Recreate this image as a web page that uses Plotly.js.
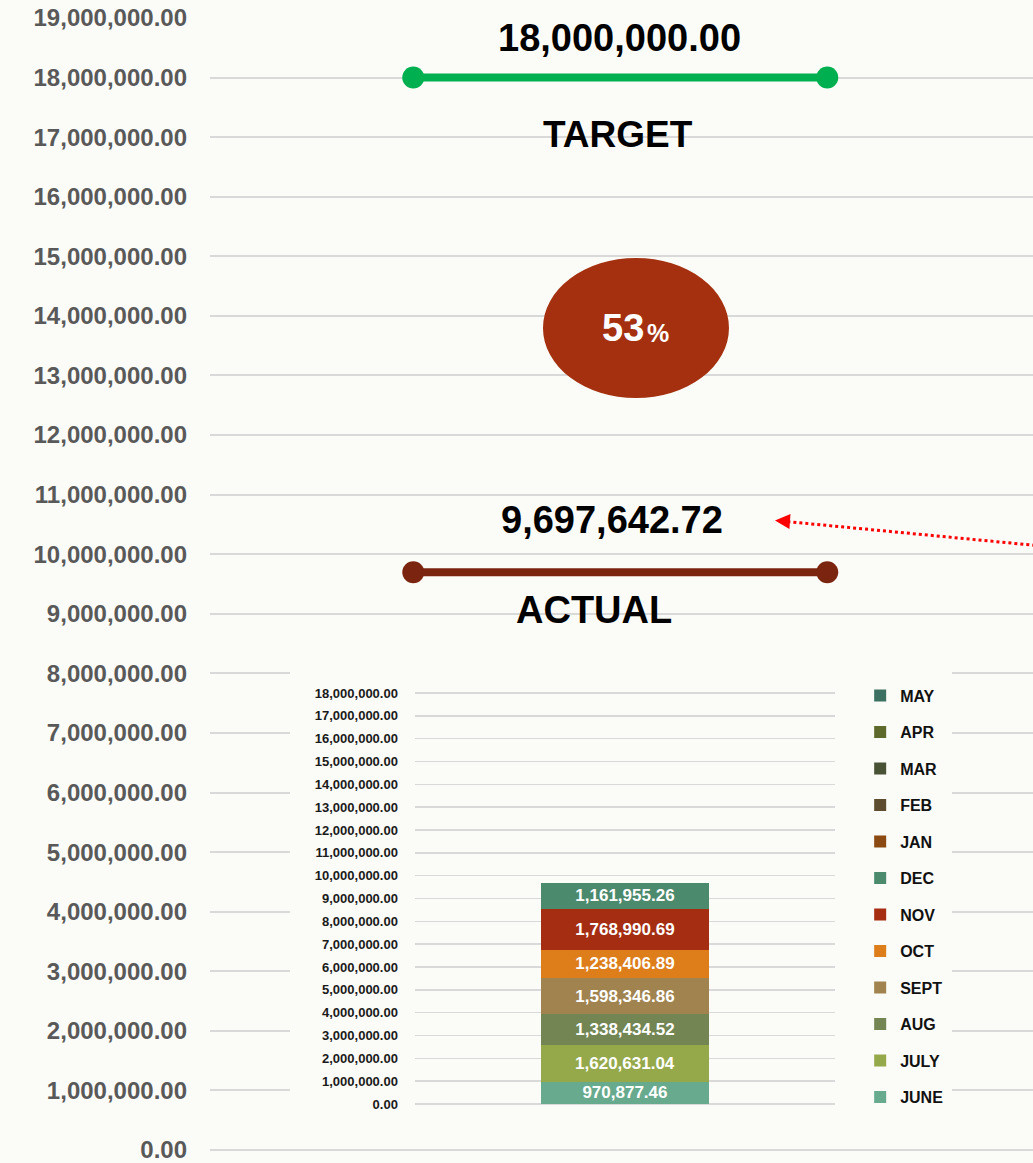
<!DOCTYPE html>
<html>
<head>
<meta charset="utf-8">
<script src="https://cdn.plot.ly/plotly-3.0.1.min.js"></script>
<style>
html,body{margin:0;padding:0;background:#FBFBF7;}
#chart{width:1033px;height:1163px;}
</style>
</head>
<body>
<div id="chart"></div>
<script>
// ---- DATA ----
const months = ['JUNE','JULY','AUG','SEPT','OCT','NOV','DEC','JAN','FEB','MAR','APR','MAY'];
const monthValues = [970877.46, 1620631.04, 1338434.52, 1598346.86, 1238406.89, 1768990.69, 1161955.26, 0, 0, 0, 0, 0];
const monthColors = ['#68AA8E','#95A94B','#728553','#A0834F','#DD7E1B','#A52E12','#4C8A6E','#8B4A12','#5E4C31','#4A5236','#5D6A2C','#3C7060'];
const target = 18000000;
const barCategory = ['TOTAL'];
const targetLabel = 'TARGET';
const actualLabel = 'ACTUAL';

// ---- derived ----
const actual = monthValues.reduce((a, b) => a + b, 0);
const pct = Math.floor(actual / target * 100);
const fmt = v => v.toLocaleString('en-US', {minimumFractionDigits: 2, maximumFractionDigits: 2});

const FONT = 'Liberation Sans, Arial, sans-serif';
const BG = '#FBFBF7';
const LINE_X = [0.247, 0.75];

const traces = [];
traces.push({
  type: 'scatter', mode: 'lines+markers', x: LINE_X, y: [target, target],
  xaxis: 'x', yaxis: 'y', showlegend: false, hoverinfo: 'skip',
  line: {color: '#00B050', width: 8}, marker: {color: '#00B050', size: 22}
});
traces.push({
  type: 'scatter', mode: 'lines+markers', x: LINE_X, y: [actual, actual],
  xaxis: 'x', yaxis: 'y', showlegend: false, hoverinfo: 'skip',
  line: {color: '#7B2510', width: 8}, marker: {color: '#7B2510', size: 22}
});
months.forEach((m, i) => {
  const v = monthValues[i];
  traces.push({
    type: 'bar', name: m, legendgroup: m, legendrank: months.length - i,
    x: barCategory, y: [v],
    xaxis: 'x2', yaxis: 'y2',
    marker: {color: monthColors[i], line: {width: 0}},
    text: [v > 0 ? fmt(v) : ''], textposition: 'inside', insidetextanchor: 'middle',
    constraintext: 'none', textangle: 0,
    textfont: {family: FONT, size: 17, color: '#FFFFFF', weight: 'bold'},
    hoverinfo: 'skip'
  });
});

const layout = {
  width: 1033, height: 1163,
  margin: {l: 210, r: 0, t: 18, b: 13},
  paper_bgcolor: BG, plot_bgcolor: BG,
  barmode: 'stack', bargap: 0.6,
  showlegend: true,
  legend: {
    x: 0.79, y: 0.4165, xanchor: 'left', yanchor: 'top',
    traceorder: 'grouped', tracegroupgap: 12.7,
    bgcolor: 'rgba(0,0,0,0)',
    font: {family: FONT, size: 16, color: '#111111', weight: 'bold'},
    itemclick: false
  },
  xaxis: {domain: [0, 1], range: [0, 1], visible: false, fixedrange: true},
  yaxis: {
    domain: [0, 1], range: [0, 19000000], dtick: 1000000, tick0: 0,
    tickformat: ',.2f', showgrid: true, gridcolor: '#D9D9D9', gridwidth: 2,
    zeroline: true, zerolinecolor: '#D9D9D9', zerolinewidth: 2,
    showline: false, ticks: '', ticklabelstandoff: 22, ticklabeloverflow: 'allow',
    tickfont: {family: FONT, size: 24, color: '#595959', weight: 'bold'},
    fixedrange: true
  },
  xaxis2: {domain: [0.249, 0.7594], anchor: 'y2', showticklabels: false, ticks: '',
    showgrid: false, zeroline: false, showline: false, fixedrange: true},
  yaxis2: {
    domain: [0.0406, 0.4077], anchor: 'x2', range: [0, 18200000], dtick: 1000000, tick0: 0,
    tickformat: ',.2f', showgrid: true, gridcolor: '#D9D9D9', gridwidth: 1.5,
    zeroline: true, zerolinecolor: '#D9D9D9', zerolinewidth: 1.5,
    showline: false, ticks: '', ticklabelstandoff: 16, ticklabeloverflow: 'allow',
    tickfont: {family: FONT, size: 13, color: '#1A1A1A', weight: 'bold'},
    fixedrange: true
  },
  shapes: [
    // inner chart area background covering the outer grid
    {type: 'rect', xref: 'x', yref: 'y', layer: 'between',
     x0: 0.0972, x1: 0.9016, y0: 470000, y1: 8220000,
     fillcolor: BG, line: {width: 0}},
    // percent ellipse
    {type: 'circle', xref: 'paper', yref: 'paper', layer: 'above',
     x0: 0.4046, x1: 0.6306, y0: 0.6643, y1: 0.788,
     fillcolor: '#A5300F', line: {width: 0}},
    // dotted pointer
    {type: 'line', xref: 'paper', yref: 'paper', layer: 'above',
     x0: 1.01, y0: 0.5336, x1: 0.696, y1: 0.5555,
     line: {color: '#FF0000', width: 3, dash: 'dot'}}
  ],
  annotations: [
    {xref: 'x', yref: 'y', x: 0.5, y: target, yshift: 40, xshift: -2, showarrow: false,
     text: fmt(target), font: {family: FONT, size: 38, color: '#000000', weight: 'bold'}},
    {xref: 'x', yref: 'y', x: 0.5, y: target, yshift: -57, xshift: -4, showarrow: false,
     text: targetLabel, font: {family: FONT, size: 37, color: '#000000', weight: 'bold'}},
    {xref: 'x', yref: 'y', x: 0.5, y: actual, yshift: 52, xshift: -10, showarrow: false,
     text: fmt(actual), font: {family: FONT, size: 38, color: '#000000', weight: 'bold'}},
    {xref: 'x', yref: 'y', x: 0.5, y: actual, yshift: -38, xshift: -28, showarrow: false,
     text: actualLabel, font: {family: FONT, size: 38, color: '#000000', weight: 'bold'}},
    {xref: 'paper', yref: 'paper', x: 0.5298, y: 0.7261, xanchor: 'right', yanchor: 'middle',
     showarrow: false, text: String(pct),
     font: {family: FONT, size: 38, color: '#FFFFFF', weight: 'bold'}},
    {xref: 'paper', yref: 'paper', x: 0.5286, y: 0.7217, xanchor: 'left', yanchor: 'middle',
     showarrow: false, text: '%',
     font: {family: FONT, size: 25, color: '#FFFFFF', weight: 'bold'}},
    {xref: 'paper', yref: 'paper', x: 0.6865, y: 0.5561, text: '',
     showarrow: true, arrowhead: 2, arrowsize: 1, arrowwidth: 3, arrowcolor: '#FF0000',
     ax: 14, ay: 1, standoff: 0}
  ]
};

Plotly.newPlot('chart', traces, layout, {staticPlot: true, displayModeBar: false});
</script>
</body>
</html>
